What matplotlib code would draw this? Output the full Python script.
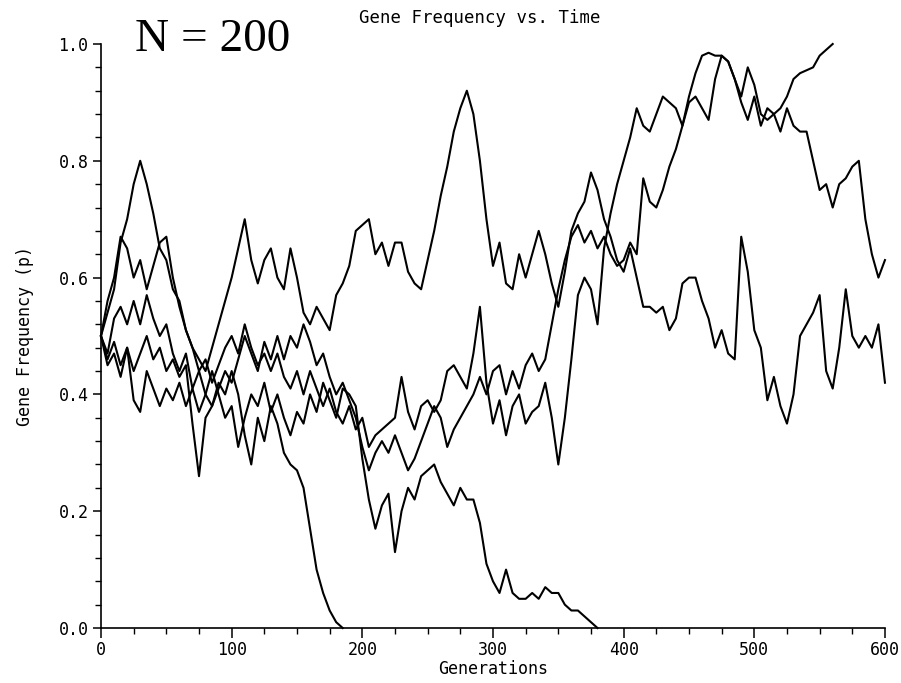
import matplotlib
matplotlib.use("Agg")
import matplotlib.pyplot as plt
import numpy as np
from matplotlib.ticker import MultipleLocator, FormatStrFormatter

step = 5  # generations between readings

# one value every 5 generations
line_a = [0.50, 0.46, 0.49, 0.45, 0.48, 0.44, 0.47, 0.50, 0.46, 0.48,
          0.44, 0.46, 0.43, 0.45, 0.35, 0.26, 0.36, 0.38, 0.42, 0.40,
          0.44, 0.40, 0.33, 0.28, 0.36, 0.32, 0.38, 0.35, 0.30, 0.28,
          0.27, 0.24, 0.17, 0.10, 0.06, 0.03, 0.01, 0.00]

line_b = [0.50, 0.45, 0.47, 0.43, 0.48, 0.39, 0.37, 0.44, 0.41, 0.38,
          0.41, 0.39, 0.42, 0.38, 0.41, 0.37, 0.40, 0.44, 0.40, 0.36,
          0.38, 0.31, 0.36, 0.40, 0.38, 0.42, 0.37, 0.40, 0.36, 0.33,
          0.37, 0.35, 0.40, 0.37, 0.42, 0.39, 0.36, 0.41, 0.40, 0.38,
          0.29, 0.22, 0.17, 0.21, 0.23, 0.13, 0.20, 0.24, 0.22, 0.26,
          0.27, 0.28, 0.25, 0.23, 0.21, 0.24, 0.22, 0.22, 0.18, 0.11,
          0.08, 0.06, 0.10, 0.06, 0.05, 0.05, 0.06, 0.05, 0.07, 0.06,
          0.06, 0.04, 0.03, 0.03, 0.02, 0.01, 0.00]

line_c = [0.50, 0.54, 0.58, 0.66, 0.70, 0.76, 0.80, 0.76, 0.71, 0.65,
          0.63, 0.58, 0.56, 0.51, 0.48, 0.46, 0.44, 0.48, 0.52, 0.56,
          0.60, 0.65, 0.70, 0.63, 0.59, 0.63, 0.65, 0.60, 0.58, 0.65,
          0.60, 0.54, 0.52, 0.55, 0.53, 0.51, 0.57, 0.59, 0.62, 0.68,
          0.69, 0.70, 0.64, 0.66, 0.62, 0.66, 0.66, 0.61, 0.59, 0.58,
          0.63, 0.68, 0.74, 0.79, 0.85, 0.89, 0.92, 0.88, 0.80, 0.70,
          0.62, 0.66, 0.59, 0.58, 0.64, 0.60, 0.64, 0.68, 0.64, 0.59,
          0.55, 0.61, 0.68, 0.71, 0.73, 0.78, 0.75, 0.70, 0.67, 0.63,
          0.61, 0.65, 0.60, 0.55, 0.55, 0.54, 0.55, 0.51, 0.53, 0.59,
          0.60, 0.60, 0.56, 0.53, 0.48, 0.51, 0.47, 0.46, 0.67, 0.61,
          0.51, 0.48, 0.39, 0.43, 0.38, 0.35, 0.40, 0.50, 0.52, 0.54,
          0.57, 0.44, 0.41, 0.48, 0.58, 0.50, 0.48, 0.50, 0.48, 0.52,
          0.42]

line_d = [0.50, 0.56, 0.60, 0.67, 0.65, 0.60, 0.63, 0.58, 0.62, 0.66,
          0.67, 0.60, 0.55, 0.51, 0.48, 0.44, 0.46, 0.42, 0.45, 0.48,
          0.50, 0.47, 0.52, 0.48, 0.45, 0.47, 0.44, 0.47, 0.43, 0.41,
          0.44, 0.40, 0.44, 0.41, 0.38, 0.41, 0.37, 0.35, 0.38, 0.34,
          0.36, 0.31, 0.33, 0.34, 0.35, 0.36, 0.43, 0.37, 0.34, 0.38,
          0.39, 0.37, 0.39, 0.44, 0.45, 0.43, 0.41, 0.47, 0.55, 0.42,
          0.35, 0.39, 0.33, 0.38, 0.40, 0.35, 0.37, 0.38, 0.42, 0.36,
          0.28, 0.36, 0.46, 0.57, 0.60, 0.58, 0.52, 0.65, 0.71, 0.76,
          0.80, 0.84, 0.89, 0.86, 0.85, 0.88, 0.91, 0.90, 0.89, 0.86,
          0.91, 0.95, 0.98, 0.985, 0.98, 0.98, 0.97, 0.94, 0.90, 0.87,
          0.91, 0.86, 0.89, 0.88, 0.85, 0.89, 0.86, 0.85, 0.85, 0.80,
          0.75, 0.76, 0.72, 0.76, 0.77, 0.79, 0.80, 0.70, 0.64, 0.60,
          0.63]

line_e = [0.50, 0.47, 0.53, 0.55, 0.52, 0.56, 0.52, 0.57, 0.53, 0.50,
          0.52, 0.47, 0.44, 0.47, 0.41, 0.44, 0.40, 0.38, 0.41, 0.44,
          0.42, 0.46, 0.50, 0.47, 0.44, 0.49, 0.46, 0.50, 0.46, 0.50,
          0.48, 0.52, 0.49, 0.45, 0.47, 0.43, 0.40, 0.42, 0.39, 0.36,
          0.31, 0.27, 0.30, 0.32, 0.30, 0.33, 0.30, 0.27, 0.29, 0.32,
          0.35, 0.38, 0.36, 0.31, 0.34, 0.36, 0.38, 0.40, 0.43, 0.40,
          0.44, 0.45, 0.40, 0.44, 0.41, 0.45, 0.47, 0.44, 0.46, 0.52,
          0.58, 0.63, 0.67, 0.69, 0.66, 0.68, 0.65, 0.67, 0.64, 0.62,
          0.63, 0.66, 0.64, 0.77, 0.73, 0.72, 0.75, 0.79, 0.82, 0.86,
          0.90, 0.91, 0.89, 0.87, 0.94, 0.98, 0.97, 0.94, 0.91, 0.96,
          0.93, 0.88, 0.87, 0.88, 0.89, 0.91, 0.94, 0.95, 0.955, 0.96,
          0.98, 0.99, 1.00]

runs = [line_a, line_b, line_c, line_d, line_e]

mono = "DejaVu Sans Mono"

fig = plt.figure(figsize=(9.01, 6.83), dpi=100)
ax = fig.add_axes([0.1121, 0.0805, 0.8701, 0.8551])

for r in runs:
    gens = np.arange(len(r)) * step
    ax.plot(gens, r, color="black", lw=1.5, clip_on=False)

ax.set_xlim(0, 600)
ax.set_ylim(0, 1.0)
ax.spines["top"].set_visible(False)
ax.spines["right"].set_visible(False)
ax.spines["left"].set_linewidth(1.2)
ax.spines["bottom"].set_linewidth(1.2)

ax.xaxis.set_major_locator(MultipleLocator(100))
ax.xaxis.set_minor_locator(MultipleLocator(25))
ax.yaxis.set_major_locator(MultipleLocator(0.2))
ax.yaxis.set_minor_locator(MultipleLocator(0.04))
ax.yaxis.set_major_formatter(FormatStrFormatter("%.1f"))
ax.tick_params(axis="x", which="major", length=7, width=1.1, direction="out", pad=2)
ax.tick_params(axis="x", which="minor", length=4, width=1.0, direction="out")
ax.tick_params(axis="y", which="major", length=6, width=1.1, direction="out", pad=3)
ax.tick_params(axis="y", which="minor", length=4, width=1.0, direction="out")
for lab in ax.get_xticklabels() + ax.get_yticklabels():
    lab.set_fontfamily(mono)
    lab.set_fontsize(12)

ax.set_xlabel("Generations", fontfamily=mono, fontsize=12, labelpad=1)
ax.set_ylabel("Gene Frequency (p)", fontfamily=mono, fontsize=12, labelpad=18)

fig.text(480 / 901, 1 - 18 / 683, "Gene Frequency vs. Time", fontfamily=mono,
         fontsize=12.5, ha="center", va="center")
fig.text(135 / 901, 1 - 40 / 683, "N = 200", fontfamily="Liberation Serif",
         fontsize=34, ha="left", va="center")

fig.savefig("out.png", dpi=100)
